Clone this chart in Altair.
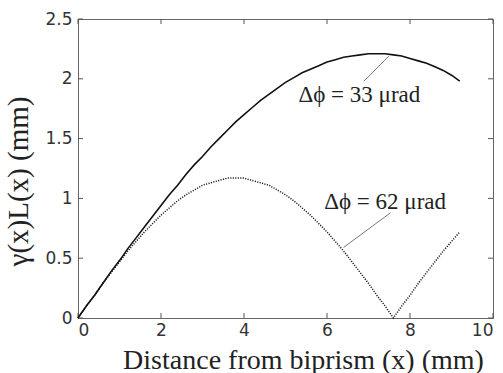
import altair as alt
import pandas as pd

# distance from biprism (mm)
x_vals = [0.0, 0.2, 0.4, 0.6, 0.8, 1.0, 1.2, 1.4, 1.6, 1.8, 2.0, 2.2, 2.4, 2.6, 2.8,
          3.0, 3.2, 3.4, 3.6, 3.8, 4.0, 4.2, 4.4, 4.6, 4.8, 5.0, 5.2, 5.4, 5.6, 5.8,
          6.0, 6.2, 6.4, 6.6, 6.8, 7.0, 7.2, 7.4, 7.6, 7.8, 8.0, 8.2, 8.4, 8.6, 8.8,
          9.0, 9.2]
# gamma(x)L(x) for delta phi = 33 urad (solid)
y_33 = [0.00, 0.10, 0.19, 0.29, 0.39, 0.48, 0.58, 0.67, 0.76, 0.85, 0.94, 1.03, 1.11,
        1.20, 1.28, 1.35, 1.43, 1.50, 1.57, 1.64, 1.70, 1.76, 1.82, 1.87, 1.92, 1.97,
        2.01, 2.05, 2.08, 2.11, 2.14, 2.16, 2.18, 2.19, 2.20, 2.21, 2.21, 2.21, 2.20,
        2.19, 2.17, 2.15, 2.13, 2.10, 2.07, 2.03, 1.98]
# gamma(x)L(x) for delta phi = 62 urad (dotted)
y_62 = [0.00, 0.10, 0.19, 0.29, 0.38, 0.47, 0.56, 0.64, 0.72, 0.79, 0.86, 0.92, 0.98,
        1.03, 1.07, 1.11, 1.13, 1.15, 1.17, 1.17, 1.17, 1.15, 1.13, 1.11, 1.07, 1.03,
        0.98, 0.92, 0.86, 0.79, 0.72, 0.64, 0.56, 0.47, 0.38, 0.29, 0.19, 0.10, 0.00,
        0.10, 0.19, 0.29, 0.38, 0.47, 0.56, 0.64, 0.72]

x_ticks = [0, 2, 4, 6, 8, 10]
y_ticks = [0, 0.5, 1, 1.5, 2, 2.5]

# annotations
ann_text = ["Δϕ = 33 μrad", "Δϕ = 62 μrad"]
ann_tx = [6.78, 7.40]
ann_ty = [1.81, 0.91]
lead_x = [6.89, 6.40]
lead_y = [1.98, 0.59]
lead_x2 = [7.49, 7.53]
lead_y2 = [2.19, 0.88]

W, H = 415, 299
TICK = 5

df33 = pd.DataFrame({"x": x_vals, "y": y_33})
df62 = pd.DataFrame({"x": x_vals, "y": y_62})
dft = pd.DataFrame({"x": ann_tx, "y": ann_ty, "t": ann_text})
dfl = pd.DataFrame({"x": lead_x, "y": lead_y, "x2": lead_x2, "y2": lead_y2})
dfxt = pd.DataFrame({"x": x_ticks})
dfyt = pd.DataFrame({"y": y_ticks})

XS = alt.Scale(domain=[0, 10], nice=False, zero=False)
YS = alt.Scale(domain=[0, 2.5], nice=False, zero=False)

AX = alt.Axis(
    orient="bottom", values=x_ticks, format="~r", domain=False, ticks=False, tickSize=0,
    grid=False,
    labelFont="DejaVu Sans", labelFontSize=17, labelColor="#333", labelPadding=4,
    title="Distance from biprism (x) (mm)", titleFont="Liberation Serif",
    titleFontSize=28, titleFontWeight="normal", titleColor="#222",
    titleX=225, titleY=50, titleBaseline="alphabetic")
AY = alt.Axis(
    orient="left", values=y_ticks, format="~r", domain=False, ticks=False, tickSize=0,
    grid=False,
    labelFont="DejaVu Sans", labelFontSize=17, labelColor="#333", labelPadding=6,
    title="γ(x)L(x) (mm)", titleFont="Liberation Serif", titleFontSize=29,
    titleFontWeight="normal", titleColor="#222", titleAngle=270, titleAlign="center",
    titleX=-51, titleY=162, titleBaseline="alphabetic")

solid = alt.Chart(df33).mark_line(color="#111", strokeWidth=1.6).encode(
    x=alt.X("x:Q", scale=XS, axis=AX),
    y=alt.Y("y:Q", scale=YS, axis=AY),
)

dotted = alt.Chart(df62).mark_line(color="#111", strokeWidth=1.5, strokeDash=[1.1, 1.4]).encode(
    x=alt.X("x:Q", scale=XS, axis=AX),
    y=alt.Y("y:Q", scale=YS, axis=AY),
)

leaders = alt.Chart(dfl).mark_rule(color="#555", strokeWidth=0.8).encode(
    x=alt.X("x:Q", scale=XS, axis=AX),
    y=alt.Y("y:Q", scale=YS, axis=AY),
    x2="x2:Q",
    y2="y2:Q",
)

labels = alt.Chart(dft).mark_text(font="Liberation Serif", fontSize=23, color="#222",
                                  align="center", baseline="alphabetic").encode(
    x=alt.X("x:Q", scale=XS, axis=AX),
    y=alt.Y("y:Q", scale=YS, axis=AY),
    text="t:N",
)

# inward frame ticks (MATLAB style) at the axis tick values
tick_style = dict(color="#555", strokeWidth=1)
xt_bottom = alt.Chart(dfxt).mark_rule(**tick_style).encode(
    x=alt.X("x:Q", scale=XS, axis=AX), y=alt.value(H), y2=alt.value(H - TICK))
xt_top = alt.Chart(dfxt).mark_rule(**tick_style).encode(
    x=alt.X("x:Q", scale=XS, axis=AX), y=alt.value(0), y2=alt.value(TICK))
yt_left = alt.Chart(dfyt).mark_rule(**tick_style).encode(
    y=alt.Y("y:Q", scale=YS, axis=AY), x=alt.value(0), x2=alt.value(TICK))
yt_right = alt.Chart(dfyt).mark_rule(**tick_style).encode(
    y=alt.Y("y:Q", scale=YS, axis=AY), x=alt.value(W), x2=alt.value(W - TICK))

chart = alt.layer(xt_bottom, xt_top, yt_left, yt_right,
                  solid, dotted, leaders, labels).properties(
    width=W, height=H,
    padding={"left": 78, "top": 19, "right": 10, "bottom": 55},
    autosize=alt.AutoSizeParams(type="none"),
    background="white",
).configure_view(stroke="#666", strokeWidth=1)

chart.save("out.html", embed_options={"renderer": "svg", "actions": False})
